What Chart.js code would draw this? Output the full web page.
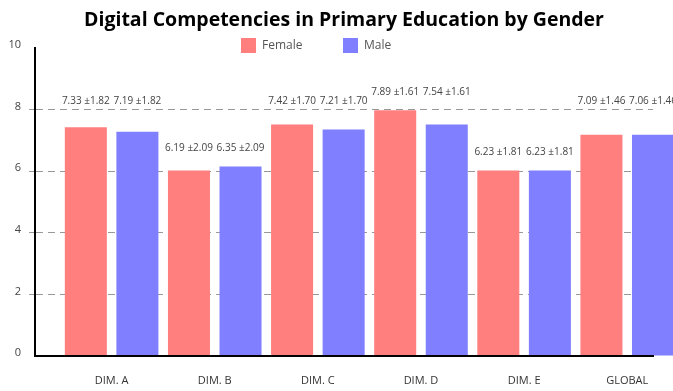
<!DOCTYPE html>
<html>
<head>
<meta charset="utf-8">
<title>Digital Competencies by Gender</title>
<script src="https://cdn.jsdelivr.net/npm/chart.js@4.4.0/dist/chart.umd.min.js"></script>
<style>
  html, body { margin: 0; padding: 0; background: #fff; overflow: hidden; }
  #wrap { width: 673px; height: 391px; }
</style>
</head>
<body>
<div id="wrap"><canvas id="genderChart" width="673" height="391"></canvas></div>
<script>
// Data
const categories = ['DIM. A', 'DIM. B', 'DIM. C', 'DIM. D', 'DIM. E', 'GLOBAL'];
const femaleBars = [7.43, 6.02, 7.52, 7.98, 6.02, 7.18];
const maleBars = [7.28, 6.15, 7.35, 7.52, 6.02, 7.18];
const femaleMean = [7.33, 6.19, 7.42, 7.89, 6.23, 7.09];
const femaleSd = [1.82, 2.09, 1.70, 1.61, 1.81, 1.46];
const maleMean = [7.19, 6.35, 7.21, 7.54, 6.23, 7.06];
const maleSd = [1.82, 2.09, 1.70, 1.61, 1.81, 1.46];
const yTicks = [0, 2, 4, 6, 8, 10];

const FONT = "'Open Sans', 'Noto Sans', sans-serif";
const femaleColor = '#FF7F7F';
const maleColor = '#7F7FFF';

function valueLabel(mean, sd) {
    return mean.toFixed(2) + ' \u00B1' + sd.toFixed(2);
}

// Title, legend and value labels drawn on top
const overlayPlugin = {
    id: 'overlay',
    afterDatasetsDraw(chart) {
        const ctx = chart.ctx;
        const yScale = chart.scales.y;
        const f = chart.getDatasetMeta(0).data;
        const m = chart.getDatasetMeta(1).data;
        ctx.save();
        ctx.font = '10px ' + FONT;
        ctx.fillStyle = '#444';
        ctx.textAlign = 'center';
        ctx.textBaseline = 'middle';
        categories.forEach((c, i) => {
            let y = Math.min(f[i].y, m[i].y) - 18;
            // keep labels off the dashed grid lines
            yTicks.forEach(t => {
                const p = yScale.getPixelForValue(t);
                if (Math.abs(y - p) < 8) y = p - 8;
            });
            ctx.fillText(valueLabel(femaleMean[i], femaleSd[i]), f[i].x, y);
            ctx.fillText(valueLabel(maleMean[i], maleSd[i]), m[i].x, y);
        });
        ctx.restore();
    },
    afterDraw(chart) {
        const ctx = chart.ctx;
        const area = chart.chartArea;
        ctx.save();
        // title
        ctx.font = 'bold 19.5px ' + FONT;
        ctx.fillStyle = '#000';
        ctx.textAlign = 'center';
        ctx.textBaseline = 'middle';
        ctx.fillText('Digital Competencies in Primary Education by Gender', (area.left + area.right) / 2, 20);
        // legend
        const items = [
            { text: 'Female', color: femaleColor, x: 241 },
            { text: 'Male', color: maleColor, x: 343 },
        ];
        ctx.font = '12px ' + FONT;
        ctx.textAlign = 'left';
        items.forEach(item => {
            ctx.fillStyle = item.color;
            ctx.fillRect(item.x, 38, 15, 15);
            ctx.fillStyle = '#555';
            ctx.fillText(item.text, item.x + 21, 46);
        });
        ctx.restore();
    }
};

const ctx = document.getElementById('genderChart').getContext('2d');
const genderChart = new Chart(ctx, {
    type: 'bar',
    data: {
        datasets: [
            {
                label: 'Female',
                data: femaleBars.map((v, i) => ({ x: i, y: v })),
                backgroundColor: femaleColor,
                clip: false,
            },
            {
                label: 'Male',
                data: maleBars.map((v, i) => ({ x: i, y: v })),
                backgroundColor: maleColor,
                clip: false,
            },
        ],
    },
    options: {
        responsive: false,
        animation: false,
        devicePixelRatio: 1,
        categoryPercentage: 1,
        barPercentage: 0.815,
        layout: {
            padding: { top: 48, right: 20, bottom: 4, left: 0 },
        },
        scales: {
            x: {
                type: 'linear',
                bounds: 'data',
                offset: false,
                min: -0.743,
                max: 5.25,
                afterBuildTicks: (scale) => {
                    scale.ticks = categories.map((c, i) => ({ value: i }));
                },
                afterFit: (scale) => { scale.height = 31; },
                grid: { display: false, offset: false, drawTicks: false },
                border: { display: true, color: '#000', width: 2, z: 1 },
                ticks: {
                    autoSkip: false,
                    maxRotation: 0,
                    padding: 18,
                    color: '#333',
                    font: { family: FONT, size: 11 },
                    callback: (value) => categories[Math.round(value)] ?? '',
                },
            },
            y: {
                min: 0,
                max: 10,
                afterFit: (scale) => { scale.width = 35; },
                afterBuildTicks: (scale) => {
                    scale.ticks = yTicks.map(v => ({ value: v }));
                },
                grid: {
                    color: (c) => (c.tick && (c.tick.value === 0 || c.tick.value === 10)) ? 'rgba(0,0,0,0)' : '#999',
                    tickLength: 6,
                    tickBorderDash: [7, 5],
                },
                border: { display: true, color: '#000', width: 2, dash: [7, 5] },
                ticks: {
                    padding: 8,
                    labelOffset: -3,
                    color: '#444',
                    font: { family: FONT, size: 11 },
                },
            },
        },
        plugins: {
            legend: { display: false },
            title: { display: false },
            tooltip: { enabled: false },
        },
    },
    plugins: [overlayPlugin],
});
</script>
</body>
</html>
